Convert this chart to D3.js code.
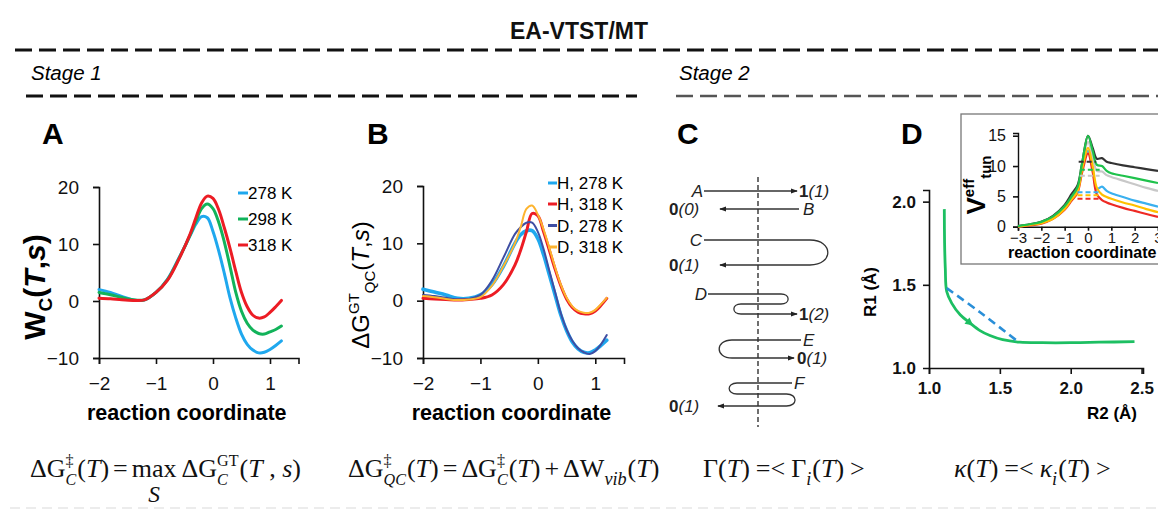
<!DOCTYPE html>
<html><head><meta charset="utf-8">
<script src="https://cdn.jsdelivr.net/npm/d3@7"></script>
<style>
body{margin:0;background:#fff;}
svg{display:block;font-family:"Liberation Sans",Arial,sans-serif;}
</style></head><body>
<svg id="c" width="1158" height="510"></svg>
<script>
// ---------------- DATA ----------------
const titleText = "EA-VTST/MT";
const stageLabels = ["Stage 1", "Stage 2"];
const panelLetters = ["A", "B", "C", "D"];

// Panel A: W_C(T,s) vs reaction coordinate
const rcGrid = [-2,-1.8,-1.6,-1.4,-1.2,-1.0,-0.8,-0.6,-0.4,-0.3,-0.2,-0.1,0,0.1,0.2,0.3,0.4,0.5,0.6,0.7,0.8,0.9,1.0,1.1,1.2];
const wc278 = [2.0,1.5,0.8,0.2,0.2,1.5,3.8,7.5,11.5,13.5,14.8,14.6,12.2,8.8,4.8,0.5,-3.0,-5.8,-7.6,-8.6,-9.1,-9.0,-8.5,-7.8,-7.0];
const wc298 = [1.5,1.1,0.6,0.2,0.2,1.5,3.7,7.4,11.6,14.0,16.2,17.0,16.2,13.8,10.3,6.0,1.5,-1.8,-3.9,-5.1,-5.7,-5.8,-5.4,-5.0,-4.4];
const wc318 = [0.5,0.4,0.2,0.1,0.2,1.5,3.6,7.3,11.8,14.6,17.2,18.4,18.0,16.0,12.8,9.2,5.2,1.5,-1.0,-2.5,-3.0,-2.8,-2.0,-1.0,0.1];
const legendA = ["278 K", "298 K", "318 K"];

// Panel B: ΔG^GT_QC(T,s)
const gH278 = [2.0,1.5,1.0,0.4,0.4,1.0,2.8,6.0,10.0,11.5,12.2,12.2,10.8,8.0,4.5,1.0,-2.5,-5.2,-7.2,-8.4,-9.0,-9.1,-8.6,-7.8,-6.9];
const gH318 = [0.4,0.3,0.2,0.1,0.2,0.4,1.0,2.8,6.2,8.8,12.0,15.2,14.8,12.0,8.8,5.5,2.6,0.3,-1.2,-2.0,-2.3,-2.3,-1.8,-0.8,0.4];
const gD278 = [1.0,0.8,0.5,0.2,0.3,1.0,3.5,7.5,11.6,12.8,13.6,13.6,12.0,9.0,5.2,1.5,-2.2,-5.0,-7.0,-8.3,-9.0,-9.3,-8.8,-7.6,-6.0];
const gD318 = [0.8,0.6,0.3,0.1,0.2,0.6,2.6,6.0,10.0,12.8,16.0,16.6,15.0,12.4,9.2,5.8,2.8,0.5,-1.0,-1.8,-2.1,-2.1,-1.6,-0.6,0.5];
const legendB = ["H, 278 K", "H, 318 K", "D, 278 K", "D, 318 K"];

const rcTicks = [-2,-1,0,1];
const energyTicks = [-10,0,10,20];

// Panel C: schematic trajectories (runs: [xFrom, xTo, row])
const cTraj = [
  [[-5.4,3.9,1.4]],
  [[4.1,-3.8,3.2]],
  [[-5.4,5.2,6.3],[5.2,-3.8,8.8]],
  [[-5.0,2.3,11.7],[2.3,-1.7,12.7],[-1.7,3.9,13.7]],
  [[4.3,-2.6,16.3],[-2.6,3.6,18.1]],
  [[3.4,-2.1,20.6],[-2.1,2.85,21.7],[2.85,-4.0,22.9]]
];
const cLetters = [["A",-5.5,1.4,"end"],["B",4.5,3.2,"start"],["C",-5.6,6.3,"end"],["D",-5.1,11.7,"end"],["E",4.5,16.3,"start"],["F",3.6,20.6,"start"]];
const cOutcomes = [["1","(1)",4.1,1.4],["0","(0)",-8.9,3.2],["0","(1)",-8.9,8.8],["1","(2)",4.1,13.7],["0","(1)",3.9,18.1],["0","(1)",-8.9,22.9]];

// Panel D main: R1 vs R2
const dGreenR2 = [1.108,1.11,1.115,1.125,1.16,1.22,1.29,1.36,1.43,1.52,1.64,1.8,2.0,2.2,2.45];
const dGreenR1 = [1.955,1.75,1.6,1.46,1.39,1.32,1.27,1.225,1.195,1.17,1.155,1.152,1.152,1.155,1.158];
const dBlueR2 = [1.125,1.36,1.63];
const dBlueR1 = [1.48,1.335,1.157];
const dXTicks = [1.0,1.5,2.0,2.5];
const dYTicks = [1.0,1.5,2.0];

// Panel D inset: V_eff_tun
const insetX = [-3,-2.5,-2,-1.5,-1,-0.7,-0.45,-0.25,0,0.2,0.38,0.6,0.8,1.0,1.5,2.0,2.5,3.0];
const vBlack  = [0.1,0.4,0.8,1.8,3.6,5.4,6.8,10.5,15.0,13.0,11.2,11.3,10.7,10.5,10.1,9.8,9.5,9.2];
const vGray   = [0.1,0.4,0.8,1.7,3.3,5.0,6.3,10.0,14.0,11.5,9.2,9.1,8.5,8.2,7.6,7.0,6.4,5.9];
const vBlue   = [0.0,0.3,0.6,1.4,3.0,4.6,6.0,9.5,12.5,9.5,6.2,6.6,5.9,5.5,4.9,4.3,3.8,3.3];
const vRed    = [0.0,0.2,0.5,1.3,2.8,4.3,5.6,9.0,12.1,9.0,5.3,4.4,4.0,3.7,3.1,2.6,2.1,1.6];
const vOrange = [0.0,0.3,0.6,1.3,2.9,4.5,5.8,9.5,13.0,10.0,6.4,5.3,4.9,4.6,4.0,3.5,2.9,2.4];
const vGreen  = [0.1,0.4,0.8,1.7,3.4,5.0,6.5,10.5,15.0,12.5,10.2,10.0,9.2,8.8,8.4,8.0,7.6,7.2];
const vDashed = [["#333",10.7,-0.4,0.35],["#c8c8c8",8.4,-0.35,0.5],["#1fc24c",9.4,-0.35,0.5],["#3ab0ef",5.7,-0.45,0.45],["#ffc000",5.2,-0.45,0.45],["#ee2a24",4.6,-0.45,0.45]];
const insetXTicks = [-3,-2,-1,0,1,2,3];
const insetYTicks = [0,5,10,15];

// ---------------- DRAW ----------------
const svg = d3.select("#c");
const FONT = '"Liberation Sans",Arial,sans-serif';
const SERIF = '"Liberation Serif","Times New Roman",serif';

// Header
svg.append("text").attr("x",579).attr("y",39).attr("text-anchor","middle")
  .attr("font-weight","bold").attr("font-size",23).attr("fill","#111").text(titleText);
function dash(x1,x2,y,col,w,da){
  svg.append("line").attr("x1",x1).attr("x2",x2).attr("y1",y).attr("y2",y)
    .attr("stroke",col).attr("stroke-width",w).attr("stroke-dasharray",da);
}
dash(15,1158,50,"#111",3,"17 7");
dash(26,637,96,"#111",3,"17 7");
dash(676,1158,96,"#555",2.5,"17 7");
dash(10,1158,508,"#e6e6e6",1.5,"10 6");
svg.append("text").attr("x",31).attr("y",80).attr("font-style","italic").attr("font-size",20.5).text(stageLabels[0]);
svg.append("text").attr("x",679).attr("y",80).attr("font-style","italic").attr("font-size",20.5).text(stageLabels[1]);

// Panel letters
[[42,panelLetters[0]],[367,panelLetters[1]],[677,panelLetters[2]],[901,panelLetters[3]]].forEach(([x,t])=>{
  svg.append("text").attr("x",x).attr("y",144).attr("font-weight","bold").attr("font-size",30).text(t);
});

function styleAxis(g, fs, bold){
  g.select(".domain").attr("stroke","#111").attr("stroke-width",1.6);
  g.selectAll(".tick line").attr("stroke","#111").attr("stroke-width",1.6);
  g.selectAll(".tick text").attr("font-size",fs).attr("fill","#111")
    .attr("font-family",FONT).attr("font-weight",bold?"bold":"normal");
}

function energyPanel(x0, x1, yTop, yBot, series){
  const x = d3.scaleLinear().domain([-2,1.5]).range([x0,x1]);
  const y = d3.scaleLinear().domain([-10,20]).range([yBot,yTop]);
  const gx = svg.append("g").attr("transform",`translate(0,${yBot})`)
    .call(d3.axisBottom(x).tickValues(rcTicks).tickSizeOuter(0).tickSize(6).tickPadding(13).tickFormat(d3.format("d")));
  styleAxis(gx,19,false);
  const gy = svg.append("g").attr("transform",`translate(${x0},0)`)
    .call(d3.axisLeft(y).tickValues(energyTicks).tickSizeOuter(0).tickSize(6).tickPadding(14).tickFormat(d3.format("d")));
  styleAxis(gy,19,false);
  const line = d3.line().x((d,i)=>x(rcGrid[i])).y(d=>y(d)).curve(d3.curveCatmullRom.alpha(0.5));
  series.forEach(s=>{
    svg.append("path").attr("d",line(s.v)).attr("fill","none").attr("stroke",s.c)
      .attr("stroke-width",s.w).attr("stroke-linejoin","round").attr("stroke-linecap","round");
  });
  svg.append("text").attr("x",(x0+x1)/2-12).attr("y",420).attr("text-anchor","middle")
    .attr("font-weight","bold").attr("font-size",21.5).text("reaction coordinate");
  return {x,y};
}

// Panel A
const colA = ["#1fa8ee","#12b35a","#ec1c24"];
energyPanel(99,298.5,187,358,[{v:wc278,c:colA[0],w:3},{v:wc298,c:colA[1],w:3},{v:wc318,c:colA[2],w:3}]);
[193,219,245].forEach((yy,i)=>{
  svg.append("line").attr("x1",238).attr("x2",248).attr("y1",yy).attr("y2",yy).attr("stroke",colA[i]).attr("stroke-width",3);
  svg.append("text").attr("x",248).attr("y",yy).attr("dy","0.36em").attr("font-size",17).text(legendA[i]);
});
{
  const t = svg.append("text").attr("transform","translate(45,287) rotate(-90)").attr("text-anchor","middle")
    .attr("font-weight","bold").attr("font-size",30);
  t.append("tspan").text("W");
  t.append("tspan").attr("font-size",19).attr("dy",7).text("C");
  t.append("tspan").attr("dy",-7).text("(");
  t.append("tspan").attr("font-style","italic").text("T");
  t.append("tspan").text(",");
  t.append("tspan").attr("font-style","italic").text("s");
  t.append("tspan").text(")");
}

// Panel B
const colB = ["#1fa8ee","#ec1c24","#3f4ea3","#fdb42f"];
energyPanel(423,624,186,358,[{v:gH278,c:colB[0],w:3.6},{v:gH318,c:colB[1],w:3},{v:gD278,c:colB[2],w:2},{v:gD318,c:colB[3],w:2}]);
[183,204,225.5,247].forEach((yy,i)=>{
  svg.append("line").attr("x1",548).attr("x2",557).attr("y1",yy).attr("y2",yy).attr("stroke",colB[i]).attr("stroke-width",3);
  svg.append("text").attr("x",557).attr("y",yy).attr("dy","0.36em").attr("font-size",17).text(legendB[i]);
});
{
  const t = svg.append("text").attr("transform","translate(369,285) rotate(-90)").attr("text-anchor","middle")
    .attr("font-size",24);
  t.append("tspan").text("ΔG");
  t.append("tspan").attr("font-size",15).attr("dy",-10).text("GT");
  t.append("tspan").attr("font-size",15).attr("dy",16).text("QC");
  t.append("tspan").attr("dy",-6).text("(");
  t.append("tspan").attr("font-style","italic").text("T");
  t.append("tspan").text(",");
  t.append("tspan").attr("font-style","italic").text("s");
  t.append("tspan").text(")");
}

// Panel C
const xC = d3.scaleLinear().domain([-10,10]).range([658,858]);
const yC = d3.scaleLinear().domain([0,25]).range([177,427]);
const defs = svg.append("defs");
defs.append("marker").attr("id","arr").attr("viewBox","0 0 8 6").attr("refX",7).attr("refY",3)
  .attr("markerWidth",7).attr("markerHeight",5.5).attr("markerUnits","userSpaceOnUse").attr("orient","auto")
  .append("path").attr("d","M0,0 L8,3 L0,6 z").attr("fill","#222");
svg.append("line").attr("x1",xC(0)).attr("x2",xC(0)).attr("y1",yC(0)).attr("y2",yC(25))
  .attr("stroke","#222").attr("stroke-width",1.3).attr("stroke-dasharray","5 3");
function runPath(runs){
  const p = d3.path();
  runs.forEach((r,i)=>{
    const x0=xC(r[0]), x1=xC(r[1]), y=yC(r[2]);
    if(i===0) p.moveTo(x0,y);
    else{
      const pr=runs[i-1], px=xC(pr[1]), py=yC(pr[2]);
      const k=(y-py)*0.95*Math.sign(pr[1]-pr[0]);
      p.bezierCurveTo(px+k,py,x0+k,y,x0,y);
    }
    p.lineTo(x1,y);
  });
  return p.toString();
}
cTraj.forEach(runs=>{
  svg.append("path").attr("d",runPath(runs)).attr("fill","none").attr("stroke","#333")
    .attr("stroke-width",1.3).attr("marker-end","url(#arr)");
});
cLetters.forEach(([t,x,y,a])=>{
  svg.append("text").attr("x",xC(x)).attr("y",yC(y)).attr("dy","0.36em").attr("text-anchor",a)
    .attr("font-style","italic").attr("font-size",17).attr("fill","#222").text(t);
});
cOutcomes.forEach(([n,p,x,y])=>{
  const t = svg.append("text").attr("x",xC(x)).attr("y",yC(y)).attr("dy","0.36em").attr("font-size",17).attr("fill","#222");
  t.append("tspan").attr("font-weight","bold").text(n);
  t.append("tspan").attr("font-style","italic").text(p);
});

// Panel D main
const xD = d3.scaleLinear().domain([1.0,2.51]).range([929,1143]);
const yD = d3.scaleLinear().domain([1.0,2.07]).range([368,190]);
{
  const gx = svg.append("g").attr("transform","translate(0,368)")
    .call(d3.axisBottom(xD).tickValues(dXTicks).tickSizeOuter(0).tickSize(6).tickPadding(8).tickFormat(d3.format(".1f")));
  styleAxis(gx,17,true);
  const gy = svg.append("g").attr("transform","translate(929,0)")
    .call(d3.axisLeft(yD).tickValues(dYTicks).tickSizeOuter(0).tickSize(6).tickPadding(7).tickFormat(d3.format(".1f")));
  styleAxis(gy,17,true);
  gy.selectAll(".tick").filter(d=>d===1.0).select("line").remove();
  svg.append("text").attr("x",1112).attr("y",419).attr("text-anchor","middle").attr("font-weight","bold").attr("font-size",17).text("R2 (Å)");
  svg.append("text").attr("transform","translate(876,292) rotate(-90)").attr("text-anchor","middle").attr("font-weight","bold").attr("font-size",17).text("R1 (Å)");
  const lineG = d3.line().x(d=>xD(d[0])).y(d=>yD(d[1])).curve(d3.curveCatmullRom.alpha(0.5));
  const gPts = dGreenR2.map((d,i)=>[d,dGreenR1[i]]);
  svg.append("path").attr("d",lineG(gPts)).attr("fill","none").attr("stroke","#1dbf62").attr("stroke-width",2.8);
  const bPts = dBlueR2.map((d,i)=>[d,dBlueR1[i]]);
  svg.append("path").attr("d",lineG(bPts)).attr("fill","none").attr("stroke","#2a8fd8").attr("stroke-width",2.6).attr("stroke-dasharray","8 5");
  // arrowhead on green path
  const a = gPts[6], b = gPts[7], p0 = gPts[5];
  const ang = Math.atan2(yD(b[1])-yD(p0[1]), xD(b[0])-xD(p0[0]))*180/Math.PI;
  svg.append("path").attr("d","M4,0 L-4,-4 L-4,4 z").attr("fill","#1dbf62")
    .attr("transform",`translate(${xD(a[0])},${yD(a[1])}) rotate(${ang})`);
}

// Panel D inset
{
  svg.append("rect").attr("x",961).attr("y",114).attr("width",230).attr("height",150)
    .attr("fill","#fff").attr("stroke","#777").attr("stroke-width",1.3);
  const xI = d3.scaleLinear().domain([-3,3]).range([1018,1158]);
  const yI = d3.scaleLinear().domain([0,15.45]).range([226.7,133]);
  const gx = svg.append("g").attr("transform","translate(0,226.7)")
    .call(d3.axisBottom(xI).tickValues(insetXTicks).tickSizeOuter(0).tickSize(4).tickPadding(2).tickFormat(d3.format("d")));
  styleAxis(gx,15,false);
  const gy = svg.append("g").attr("transform","translate(1018,0)")
    .call(d3.axisLeft(yI).tickValues(insetYTicks).tickSizeOuter(0).tickSize(5).tickPadding(7).tickFormat(d3.format("d")));
  styleAxis(gy,16,false);
  gx.select(".domain").attr("stroke-width",1.4); gy.select(".domain").attr("stroke-width",1.4);
  const li = d3.line().x((d,i)=>xI(insetX[i])).y(d=>yI(d)).curve(d3.curveCatmullRom.alpha(0.5));
  [[vGray,"#c8c8c8"],[vBlack,"#333"],[vBlue,"#3ab0ef"],[vRed,"#ee2a24"],[vOrange,"#ffc000"],[vGreen,"#1fc24c"]].forEach(([v,c])=>{
    svg.append("path").attr("d",li(v)).attr("fill","none").attr("stroke",c).attr("stroke-width",2.2);
  });
  vDashed.forEach(([c,v,a,b])=>{
    svg.append("line").attr("x1",xI(a)).attr("x2",xI(b)).attr("y1",yI(v)).attr("y2",yI(v))
      .attr("stroke",c).attr("stroke-width",2).attr("stroke-dasharray","5 3");
  });
  svg.append("text").attr("x",1008).attr("y",258).attr("font-weight","bold").attr("font-size",16).text("reaction coordinate");
  const t = svg.append("text").attr("transform","translate(985,185) rotate(-90)").attr("text-anchor","middle")
    .attr("font-weight","bold").attr("font-size",26);
  t.append("tspan").text("V");
  t.append("tspan").attr("font-size",15).attr("dy",-11).text("eff");
  t.append("tspan").attr("font-size",15).attr("dy",17).text("tun");
}

// Equations
function mathRow(x, y, parts, fs){
  const g = svg.append("g").attr("font-family",SERIF);
  let cx = x;
  function put(px, py, t, size, it, anchor){
    const el = g.append("text").attr("x",px).attr("y",py).attr("font-size",size)
      .attr("xml:space","preserve").style("white-space","pre")
      .attr("font-style",it?"italic":"normal").attr("text-anchor",anchor||"start").attr("fill","#111").text(t);
    return el.node().getComputedTextLength();
  }
  parts.forEach(p=>{
    if(p.gap){ cx += p.gap; }
    else if(p.stack){
      const w1 = put(cx, y-fs*0.42, p.stack[0], fs*0.62, p.supI);
      const w2 = put(cx, y+fs*0.3, p.stack[1], fs*0.62, p.subI);
      cx += Math.max(w1,w2)+1;
    } else if(p.sub){
      cx += put(cx, y+fs*0.3, p.sub, fs*0.7, true)+1;
    } else if(p.under){
      const w = put(cx, y, p.t, fs, false);
      put(cx+w/2, y+fs*0.95, p.under, fs*0.9, true, "middle");
      cx += w;
    } else {
      cx += put(cx, y, p.t, fs, p.i);
    }
  });
  return cx;
}
const EQ = 26;
mathRow(30,477,[{t:"ΔG"},{stack:["‡","C"],subI:true},{t:"("},{t:"T",i:1},{t:")"},{gap:4},{t:"="},{gap:4},{t:"max",under:"S"},{t:" ΔG"},{stack:["GT","C"],subI:true},{t:"("},{t:"T",i:1},{t:" , "},{t:"s",i:1},{t:")"}],EQ);
mathRow(348,477,[{t:"ΔG"},{stack:["‡","QC"],subI:true},{t:"("},{t:"T",i:1},{t:")"},{gap:4},{t:"="},{gap:4},{t:"ΔG"},{stack:["‡","C"],subI:true},{t:"("},{t:"T",i:1},{t:")"},{gap:4},{t:"+"},{gap:4},{t:"ΔW"},{sub:"vib"},{t:"("},{t:"T",i:1},{t:")"}],EQ);
mathRow(703,477,[{t:"Γ("},{t:"T",i:1},{t:")"},{gap:6},{t:"=<"},{gap:6},{t:"Γ"},{sub:"i"},{t:"("},{t:"T",i:1},{t:")"},{gap:6},{t:">"}],EQ);
mathRow(954,477,[{t:"κ",i:1},{t:"("},{t:"T",i:1},{t:")"},{gap:6},{t:"=<"},{gap:6},{t:"κ",i:1},{sub:"i"},{t:"("},{t:"T",i:1},{t:")"},{gap:6},{t:">"}],EQ);
</script>
</body></html>
